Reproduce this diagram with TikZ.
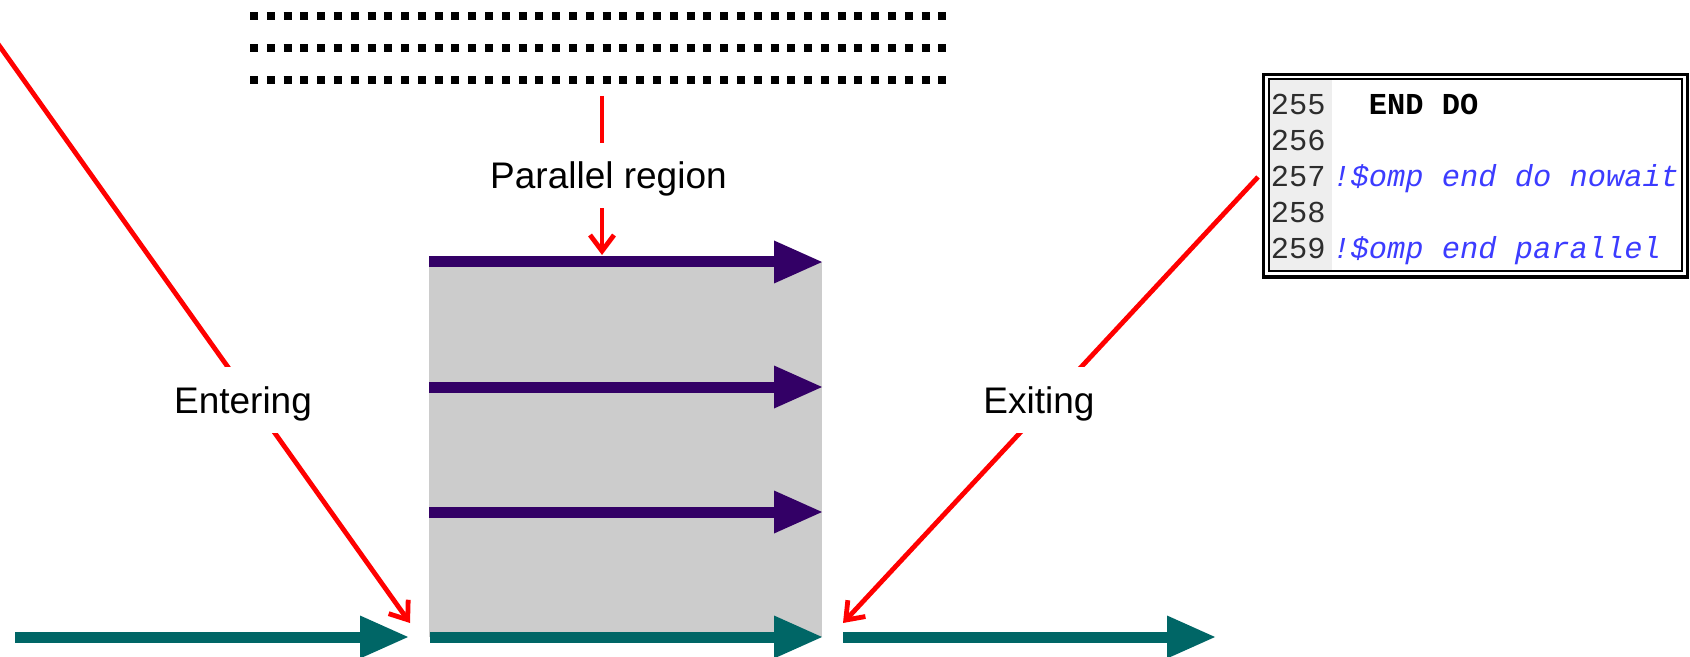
\documentclass[tikz,border=0pt]{standalone}
\usepackage{fontspec}
\setmainfont{Liberation Sans}
\newfontfamily\codefont{Liberation Mono}
\usetikzlibrary{arrows.meta}
\definecolor{threadteal}{RGB}{0,102,102}
\definecolor{threadpurple}{RGB}{51,0,102}
\definecolor{regiongrey}{RGB}{204,204,204}
\definecolor{guttergrey}{RGB}{238,238,238}
\definecolor{codeblue}{RGB}{60,60,255}
\definecolor{numgrey}{RGB}{45,45,45}
\definecolor{callred}{RGB}{255,0,0}
\tikzset{
  dotrow/.style={line width=4pt, dash pattern=on 4pt off 4.395pt, black},
  threadP/.style={line width=5.5pt, threadpurple, -{Triangle[length=24pt,width=21.5pt,line width=0pt]}},
  threadT/.style={line width=5.5pt, threadteal, -{Triangle[length=24pt,width=21.5pt,line width=0pt]}},
  callout/.style={line width=2.4pt, callred, -{Straight Barb[length=8pt,width=12pt]}},
  lbl/.style={fill=white, font=\fontsize{18.5pt}{22pt}\selectfont, text height=13.25pt, text depth=0pt, inner xsep=3pt, inner ysep=9.75pt, anchor=base},
  codetext/.style={font=\codefont\fontsize{15.2pt}{18pt}\selectfont, inner sep=0pt, anchor=base west},
}
\begin{document}
\begin{tikzpicture}[x=0.5pt,y=-0.5pt]
\useasboundingbox (0,0) rectangle (1690,657);
% dotted lines
\foreach \yy in {15.7,47.7,80} \draw[dotrow] (250,\yy) -- (946.5,\yy);
% parallel region background
\fill[regiongrey] (429,262) rectangle (822,637);
% coordinates of threads
\coordinate (p1s) at (429,262); \coordinate (p1e) at (822,262);
\coordinate (p2s) at (429,387); \coordinate (p2e) at (822,387);
\coordinate (p3s) at (429,512); \coordinate (p3e) at (822,512);
\coordinate (m0s) at (15,637);  \coordinate (m0e) at (408,637);
\coordinate (m1s) at (430,637); \coordinate (m1e) at (822,637);
\coordinate (m2s) at (843,637); \coordinate (m2e) at (1215,637);
\draw[threadP] (p1s) -- (p1e);
\draw[threadP] (p2s) -- (p2e);
\draw[threadP] (p3s) -- (p3e);
\draw[threadT] (m0s) -- (m0e);
\draw[threadT] (m1s) -- (m1e);
\draw[threadT] (m2s) -- (m2e);
% code box
\draw[line width=1.6pt] (1263.5,74.5) rectangle (1687.5,277);
\fill[guttergrey] (1269,79.5) rectangle (1332,271);
\draw[line width=1pt] (1268.5,79) rectangle (1682,271.5);
\foreach \n/\yy in {255/115,256/151,257/187,258/223,259/259}
  \node[codetext, numgrey] (num\n) at (1270.5,\yy) {\n};
\node[codetext, black] (code255) at (1368.5,115) {\bfseries END DO};
\node[codetext, codeblue] (code257) at (1332,187) {\itshape !\$omp end do nowait};
\node[codetext, codeblue] (code259) at (1332,259) {\itshape !\$omp end parallel};
% callouts
\coordinate (entStart) at (-20,18.6);
\coordinate (entTip) at (410,623);
\coordinate (exStart) at (1258,177);
\coordinate (exTip) at (843,623);
\coordinate (prStart) at (602,96);
\coordinate (prTip) at (602,255);
\draw[callout] (entStart) -- (entTip);
\draw[callout] (exStart) -- (exTip);
\draw[callout] (prStart) -- (prTip);
% labels
\node[lbl] (lblPar) at (608.5,189) {Parallel region};
\node[lbl] (lblEnt) at (243,413) {Entering};
\node[lbl] (lblExi) at (1039,413) {Exiting};
\end{tikzpicture}
\end{document}
